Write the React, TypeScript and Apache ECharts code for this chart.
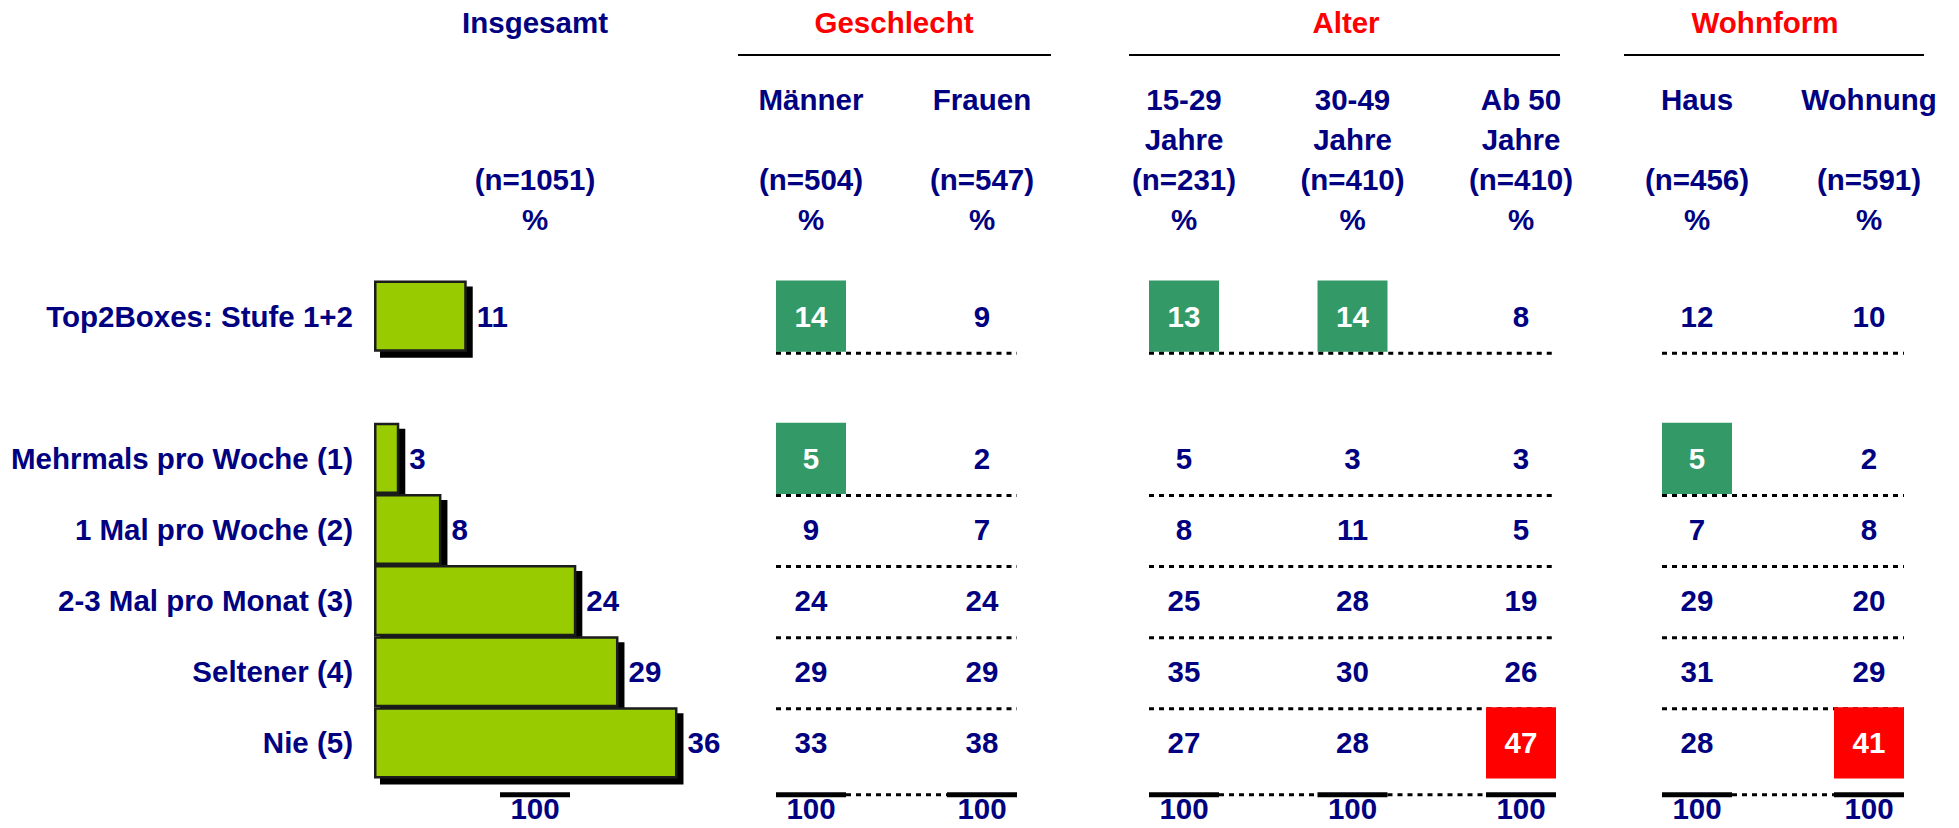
import React, { useEffect, useRef } from 'react';
import * as echarts from 'echarts';

// ---------- data ----------
const ROW_LABELS = [
  'Top2Boxes: Stufe 1+2',
  ' ',
  'Mehrmals pro Woche (1)',
  '1 Mal pro Woche (2)',
  '2-3 Mal pro Monat (3)',
  'Seltener (4)',
  'Nie (5)',
  '  ',
];
const DATA_ROWS = [0, 2, 3, 4, 5, 6]; // row index of each value below
const LAST_DATA_ROW = 6;
const TOTAL_ROW = 7;

const INSGESAMT_LABEL = 'Insgesamt';
const INSGESAMT_N = 1051;
const INSGESAMT = [11, 3, 8, 24, 29, 36];
const TOTAL_VALUE = 100;

const GROUP_TITLES = ['Geschlecht', 'Alter', 'Wohnform'];
const COLUMN_LABELS = [
  ['Männer', 'Frauen'],
  ['15-29\nJahre', '30-49\nJahre', 'Ab 50\nJahre'],
  ['Haus', 'Wohnung'],
];
const COLUMN_N = [
  [504, 547],
  [231, 410, 410],
  [456, 591],
];

const MAENNER = [14, 5, 9, 24, 29, 33];
const FRAUEN = [9, 2, 7, 24, 29, 38];
const ALTER_15_29 = [13, 5, 8, 25, 35, 27];
const ALTER_30_49 = [14, 3, 11, 28, 30, 28];
const ALTER_AB_50 = [8, 3, 5, 19, 26, 47];
const HAUS = [12, 5, 7, 29, 31, 28];
const WOHNUNG = [10, 2, 8, 20, 29, 41];

// significance markers: 0 none, 1 green box, 2 red box
const MAENNER_SIG = [1, 1, 0, 0, 0, 0];
const FRAUEN_SIG = [0, 0, 0, 0, 0, 0];
const ALTER_15_29_SIG = [1, 0, 0, 0, 0, 0];
const ALTER_30_49_SIG = [1, 0, 0, 0, 0, 0];
const ALTER_AB_50_SIG = [0, 0, 0, 0, 0, 2];
const HAUS_SIG = [0, 1, 0, 0, 0, 0];
const WOHNUNG_SIG = [0, 0, 0, 0, 0, 2];

const GROUP_VALUES = [
  [MAENNER, FRAUEN],
  [ALTER_15_29, ALTER_30_49, ALTER_AB_50],
  [HAUS, WOHNUNG],
];
const GROUP_SIG = [
  [MAENNER_SIG, FRAUEN_SIG],
  [ALTER_15_29_SIG, ALTER_30_49_SIG, ALTER_AB_50_SIG],
  [HAUS_SIG, WOHNUNG_SIG],
];

// ---------- styles / layout ----------
const NAVY = '#000080';
const RED = '#FF0000';
const GREEN_BOX = '#339966';
const BAR_GREEN = '#99CC00';
const FONT_FAMILY = '"Liberation Sans", Arial, Helvetica, sans-serif';
const FONT_SIZE = 29.5;
const BOX_W = 70;

const GRID_TOP = 280.5;
const GRID_HEIGHT = 569;
const BAR_GRID = { left: 374, width: 843 };
const INSG_GRID = { left: 450, width: 170 };
const GROUP_GRIDS = [
  { left: 725.5, width: 342 },
  { left: 1099.75, width: 505.5 },
  { left: 1611, width: 344 },
];
const GROUP_TITLE_X = [894, 1346, 1765];
const GROUP_LINES = [
  [738, 1051],
  [1129, 1560],
  [1624, 1924],
];

function makeRender(ncols: number) {
  return (params: any, api: any) => {
    const col = api.value(0);
    const row = api.value(1);
    const val = api.value(2);
    const sig = api.value(3);
    const pt = api.coord([col, row]);
    const cx = pt[0];
    const cy = pt[1];
    const bw = api.size([1, 0])[0];
    const bh = api.size([0, 1])[1];
    const half = BOX_W / 2;
    const children: any[] = [];
    const textEl = (fill: string, dy: number) => ({
      type: 'text',
      z2: 10,
      style: {
        text: String(val),
        x: cx,
        y: cy + dy,
        align: 'center',
        verticalAlign: 'middle',
        fill,
        fontSize: FONT_SIZE,
        fontWeight: 'bold',
        fontFamily: FONT_FAMILY,
      },
    });
    if (row === TOTAL_ROW) {
      const ly = cy - bh * 0.27;
      children.push({
        type: 'line',
        shape: { x1: cx - half, y1: ly, x2: cx + half, y2: ly },
        style: { stroke: '#000', lineWidth: 5 },
      });
      if (col < ncols - 1) {
        children.push({
          type: 'line',
          shape: { x1: cx + half, y1: ly, x2: cx + bw - half, y2: ly },
          style: { stroke: '#000', lineWidth: 3, lineDash: [5, 5] },
        });
      }
      children.push(textEl(NAVY, -5));
    } else {
      if (sig) {
        children.push({
          type: 'rect',
          shape: { x: cx - half, y: cy - bh / 2, width: BOX_W, height: bh },
          style: { fill: sig === 1 ? GREEN_BOX : RED },
        });
      }
      children.push(textEl(sig ? '#FFFFFF' : NAVY, 0));
      if (row !== LAST_DATA_ROW) {
        const ly = cy + bh / 2 + 1.5;
        const x1 = col === 0 ? cx - half : cx - bw / 2;
        const x2 = col === ncols - 1 ? cx + half : cx + bw / 2;
        children.push({
          type: 'line',
          shape: { x1, y1: ly, x2, y2: ly },
          style: { stroke: '#000', lineWidth: 3, lineDash: [5, 5] },
        });
      }
    }
    return { type: 'group', children };
  };
}

function headerLabel(label: string, n: number) {
  const lines = label.split('\n');
  while (lines.length < 2) lines.push(' ');
  lines.push(`(n=${n})`);
  lines.push('%');
  return lines.join('\n');
}

export default function App() {
  const ref = useRef<HTMLDivElement>(null);

  useEffect(() => {
    if (!ref.current) return;
    const chart = echarts.init(ref.current, undefined, { renderer: 'svg' });

    const baseGrid = { top: GRID_TOP, height: GRID_HEIGHT, containLabel: false, outerBoundsMode: 'none' };
    const grids: any[] = [
      { ...baseGrid, ...BAR_GRID },
      { ...baseGrid, ...INSG_GRID },
      ...GROUP_GRIDS.map((g) => ({ ...baseGrid, ...g })),
    ];

    const labelFont = { fontSize: FONT_SIZE, fontWeight: 'bold', fontFamily: FONT_FAMILY, color: NAVY };

    const xAxes: any[] = [
      { gridIndex: 0, type: 'value', min: 0, max: 100, show: false },
      {
        gridIndex: 1,
        type: 'category',
        position: 'top',
        data: [INSGESAMT_LABEL],
        axisLine: { show: false },
        axisTick: { show: false },
        axisLabel: {
          ...labelFont,
          interval: 0,
          margin: 41,
          lineHeight: 40,
          formatter: () => ` \n \n(n=${INSGESAMT_N})\n%`,
        },
      },
      ...COLUMN_LABELS.map((cols, gi) => ({
        gridIndex: gi + 2,
        type: 'category',
        position: 'top',
        data: cols,
        axisLine: { show: false },
        axisTick: { show: false },
        axisLabel: {
          ...labelFont,
          interval: 0,
          margin: 41,
          lineHeight: 40,
          formatter: (v: string, i: number) => headerLabel(v, COLUMN_N[gi][i]),
        },
      })),
    ];

    const yAxes: any[] = [
      {
        gridIndex: 0,
        type: 'category',
        inverse: true,
        data: ROW_LABELS,
        axisLine: { show: false },
        axisTick: { show: false },
        axisLabel: { ...labelFont, margin: 21, interval: 0 },
      },
      ...[1, 2, 3, 4].map((gi) => ({
        gridIndex: gi,
        type: 'category',
        inverse: true,
        data: ROW_LABELS,
        show: false,
      })),
    ];

    const barData: any[] = ROW_LABELS.map(() => '-');
    DATA_ROWS.forEach((r, i) => {
      barData[r] = INSGESAMT[i];
    });

    const series: any[] = [
      {
        type: 'bar',
        name: INSGESAMT_LABEL,
        xAxisIndex: 0,
        yAxisIndex: 0,
        data: barData,
        barWidth: '100%',
        barCategoryGap: '0%',
        itemStyle: {
          color: BAR_GREEN,
          borderColor: '#1a1a1a',
          borderWidth: 2.5,
          shadowColor: '#000000',
          shadowBlur: 0,
          shadowOffsetX: 6,
          shadowOffsetY: 6,
        },
        label: {
          show: true,
          position: 'right',
          distance: 10,
          formatter: '{c}',
          ...labelFont,
        },
        silent: true,
      },
      {
        type: 'custom',
        name: 'Insgesamt Basis',
        xAxisIndex: 1,
        yAxisIndex: 1,
        renderItem: makeRender(1),
        data: [[0, TOTAL_ROW, TOTAL_VALUE, 0]],
        silent: true,
      },
      ...GROUP_VALUES.map((cols, gi) => {
        const data: any[] = [];
        cols.forEach((vals, ci) => {
          vals.forEach((v, k) => {
            data.push([ci, DATA_ROWS[k], v, GROUP_SIG[gi][ci][k]]);
          });
          data.push([ci, TOTAL_ROW, TOTAL_VALUE, 0]);
        });
        return {
          type: 'custom',
          name: GROUP_TITLES[gi],
          xAxisIndex: gi + 2,
          yAxisIndex: gi + 2,
          renderItem: makeRender(cols.length),
          data,
          silent: true,
        };
      }),
    ];

    const graphic: any[] = [
      {
        type: 'text',
        x: 535,
        y: 22,
        style: {
          text: INSGESAMT_LABEL,
          align: 'center',
          verticalAlign: 'middle',
          fill: NAVY,
          fontSize: FONT_SIZE,
          fontWeight: 'bold',
          fontFamily: FONT_FAMILY,
        },
      },
      ...GROUP_TITLES.map((t, i) => ({
        type: 'text',
        x: GROUP_TITLE_X[i],
        y: 22,
        style: {
          text: t,
          align: 'center',
          verticalAlign: 'middle',
          fill: RED,
          fontSize: FONT_SIZE,
          fontWeight: 'bold',
          fontFamily: FONT_FAMILY,
        },
      })),
      ...GROUP_LINES.map((l) => ({
        type: 'line',
        shape: { x1: l[0], y1: 55, x2: l[1], y2: 55 },
        style: { stroke: '#000', lineWidth: 2 },
      })),
    ];

    chart.setOption({
      animation: false,
      backgroundColor: '#FFFFFF',
      grid: grids,
      xAxis: xAxes,
      yAxis: yAxes,
      series,
      graphic,
    });

    return () => chart.dispose();
  }, []);

  return (
    <div
      ref={ref}
      style={{ position: 'fixed', left: 0, top: 0, width: 1959, height: 828, background: '#fff' }}
    />
  );
}
